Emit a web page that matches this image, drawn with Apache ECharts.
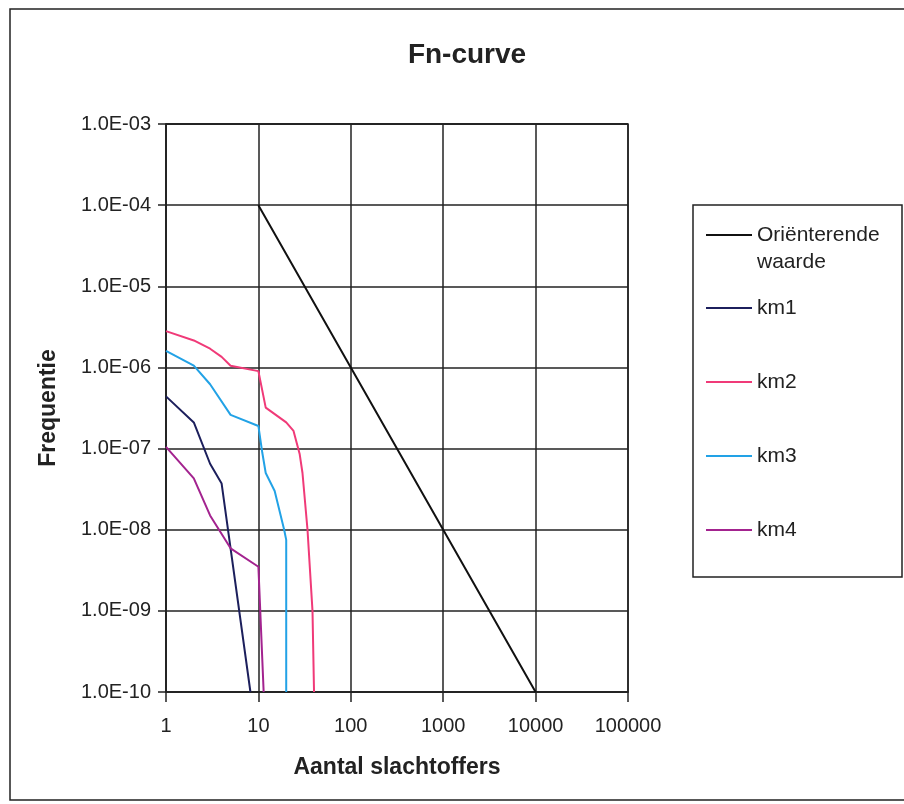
<!DOCTYPE html>
<html>
<head>
<meta charset="utf-8">
<script src="https://cdn.jsdelivr.net/npm/echarts@6/dist/echarts.min.js"></script>
<style>html,body{margin:0;padding:0;background:#fff;}#c{width:904px;height:804px;}</style>
</head>
<body>
<div id="c"></div>
<script>
const titleText = 'Fn-curve';
const xName = 'Aantal slachtoffers';
const yName = 'Frequentie';
const xTickLabels = ['1', '10', '100', '1000', '10000', '100000'];
const yTickLabels = ['1.0E-10', '1.0E-09', '1.0E-08', '1.0E-07', '1.0E-06', '1.0E-05', '1.0E-04', '1.0E-03'];
const seriesNames = ['Oriënterende waarde', 'km1', 'km2', 'km3', 'km4'];

const orientX = [10, 100, 1000, 10000];
const orientY = [1e-4, 1e-6, 1e-8, 1e-10];
const km1X = [1, 2, 3, 4, 8.2];
const km1Y = [4.4e-7, 2.1e-7, 6.5e-8, 3.7e-8, 1e-10];
const km2X = [1, 2, 3, 4, 5, 10, 12, 20, 24, 28, 30, 34, 38.5, 40];
const km2Y = [2.8e-6, 2.15e-6, 1.7e-6, 1.35e-6, 1.05e-6, 0.9e-6, 3.2e-7, 2.1e-7, 1.65e-7, 8.5e-8, 5e-8, 1e-8, 1e-9, 1e-10];
const km3X = [1, 2, 3, 5, 10, 11, 12, 15, 19, 20, 20];
const km3Y = [1.6e-6, 1.05e-6, 6.2e-7, 2.6e-7, 1.9e-7, 9e-8, 5e-8, 3e-8, 1e-8, 7.5e-9, 1e-10];
const km4X = [1, 2, 3, 5, 10, 11.4];
const km4Y = [1.05e-7, 4.3e-8, 1.5e-8, 5.9e-9, 3.5e-9, 1e-10];

const colors = ['#111111', '#1c1f5c', '#f03a78', '#22a2e6', '#a3238f'];

function pairs(xs, ys) { return xs.map((x, i) => [x, ys[i]]); }
const seriesData = [pairs(orientX, orientY), pairs(km1X, km1Y), pairs(km2X, km2Y), pairs(km3X, km3Y), pairs(km4X, km4Y)];

const FONT = '"Liberation Sans", Arial, sans-serif';
const chart = echarts.init(document.getElementById('c'), null, {renderer: 'canvas'});

const option = {
  backgroundColor: '#fff',
  animation: false,
  title: {
    text: titleText, left: 462, top: 36, textAlign: 'center',
    textStyle: {fontFamily: FONT, fontSize: 28, fontWeight: 'bold', color: '#222'}
  },
  graphic: [
    {type: 'rect', shape: {x: 10, y: 9, width: 910, height: 791}, style: {fill: 'none', stroke: '#222', lineWidth: 1.5}, silent: true, z: -1},
    {type: 'rect', shape: {x: 693, y: 205, width: 209, height: 372}, style: {fill: '#fff', stroke: '#222', lineWidth: 1.5}, silent: true, z: -1}
  ],
  legend: [
    {
      data: [seriesNames[0]], orient: 'vertical', left: 706, top: 194.5, padding: 0,
      icon: 'rect', itemWidth: 46, itemHeight: 2,
      formatter: n => ' \n' + n.replace(' ', '\n'),
      textStyle: {fontFamily: FONT, fontSize: 21, color: '#222', lineHeight: 27}
    },
    {
      data: seriesNames.slice(1), orient: 'vertical', left: 706, top: 294.5, padding: 0,
      icon: 'rect', itemWidth: 46, itemHeight: 2, itemGap: 47,
      textStyle: {fontFamily: FONT, fontSize: 21, color: '#222', lineHeight: 27}
    }
  ],
  grid: {left: 166, right: 276, top: 124, bottom: 112, show: true, borderColor: '#222', borderWidth: 1.5, backgroundColor: 'transparent'},
  xAxis: {
    type: 'log', logBase: 10, min: 1, max: 100000, interval: 1,
    name: xName, nameLocation: 'middle', nameGap: 64,
    nameTextStyle: {fontFamily: FONT, fontSize: 23, fontWeight: 'bold', color: '#222'},
    axisLine: {show: true, lineStyle: {color: '#222', width: 1.5}},
    axisTick: {show: true, inside: false, length: 10, lineStyle: {color: '#222', width: 1.5}},
    axisLabel: {
      margin: 24, fontFamily: FONT, fontSize: 20, color: '#222',
      formatter: v => xTickLabels[Math.round(Math.log10(v))]
    },
    splitLine: {show: true, lineStyle: {color: '#222', width: 1.5}},
    minorTick: {show: false}, minorSplitLine: {show: false}
  },
  yAxis: {
    type: 'log', logBase: 10, min: 1e-10, max: 1e-3, interval: 1,
    name: yName, nameLocation: 'middle', nameGap: 106, nameRotate: 90,
    nameTextStyle: {fontFamily: FONT, fontSize: 23, fontWeight: 'bold', color: '#222'},
    axisLine: {show: true, lineStyle: {color: '#222', width: 1.5}},
    axisTick: {show: true, inside: false, length: 8, lineStyle: {color: '#222', width: 1.5}},
    axisLabel: {
      margin: 15, fontFamily: FONT, fontSize: 20, color: '#222',
      formatter: v => yTickLabels[Math.round(Math.log10(v)) + 10]
    },
    splitLine: {show: true, lineStyle: {color: '#222', width: 1.5}}
  },
  series: seriesNames.map((name, i) => ({
    name: name, type: 'line', data: seriesData[i],
    showSymbol: false, symbol: 'none', smooth: false,
    color: colors[i],
    lineStyle: {color: colors[i], width: 2},
    z: 3
  }))
};
chart.setOption(option);
</script>
</body>
</html>
